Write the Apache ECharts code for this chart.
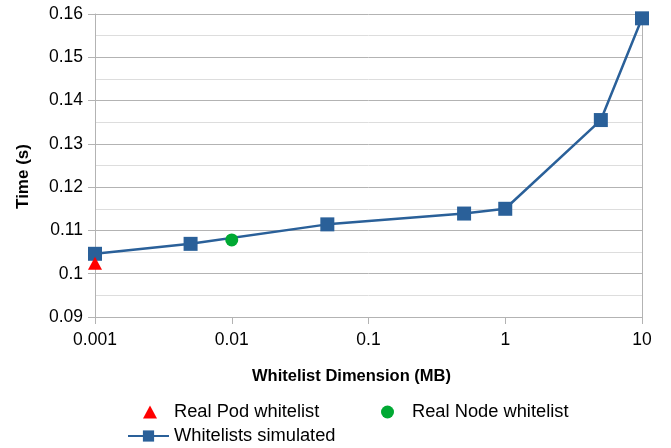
<!DOCTYPE html>
<html><head><meta charset="utf-8">
<script src="https://cdn.jsdelivr.net/npm/echarts@6/dist/echarts.min.js"></script>
<style>html,body{margin:0;padding:0;background:#fff}#c{width:671px;height:448px}</style>
</head><body><div id="c"></div>
<script>
const simX = [0.001, 0.005, 0.05, 0.5, 1, 5, 10];
const simY = [0.1046, 0.1069, 0.1114, 0.1139, 0.1150, 0.1355, 0.1590];
const podX = [0.001];
const podY = [0.1024];
const nodeX = [0.01];
const nodeY = [0.1078];
const yTicks = [0.09, 0.10, 0.11, 0.12, 0.13, 0.14, 0.15, 0.16];

const font = 'Liberation Sans';
const chart = echarts.init(document.getElementById('c'));
const zip = (a, b) => a.map((v, i) => [v, b[i]]);
chart.setOption({
  animation: false,
  textStyle: {fontFamily: font},
  grid: {left: 95, right: 29, top: 14, bottom: 131},
  xAxis: {
    type: 'log', logBase: 10, min: 0.001, max: 10,
    name: 'Whitelist Dimension (MB)', nameLocation: 'middle', nameGap: 51,
    nameTextStyle: {fontFamily: font, fontWeight: 'bold', fontSize: 16.5, color: '#000', padding: [0, 34, 0, 0]},
    axisLine: {show: true, lineStyle: {color: '#b3b3b3', width: 1}},
    axisTick: {show: true, length: 7, lineStyle: {color: '#b3b3b3'}},
    axisLabel: {fontFamily: font, fontSize: 17.5, color: '#000', margin: 14,
      formatter: v => String(+v.toPrecision(3))},
    splitLine: {show: false}, minorTick: {show: false}
  },
  yAxis: [{
    type: 'value', min: 0.09, max: 0.16, interval: 0.01,
    name: 'Time (s)', nameLocation: 'middle', nameGap: 63,
    nameTextStyle: {fontFamily: font, fontWeight: 'bold', fontSize: 17, color: '#000', padding: [0, 22, 0, 0]},
    axisLine: {show: true, lineStyle: {color: '#b3b3b3', width: 1}},
    axisTick: {show: true, length: 7, lineStyle: {color: '#b3b3b3'}},
    axisLabel: {fontFamily: font, fontSize: 17.5, color: '#000', margin: 12,
      formatter: v => String(+v.toFixed(2))},
    splitLine: {show: true, lineStyle: {color: '#b3b3b3', width: 1}},
    minorTick: {show: false, splitNumber: 2},
    minorSplitLine: {show: true, lineStyle: {color: '#dddddd', width: 1}}
  }, {
    type: 'value', position: 'right', min: 0.09, max: 0.16, interval: 0.01,
    axisLine: {show: true, lineStyle: {color: '#b3b3b3', width: 1}},
    axisTick: {show: false}, axisLabel: {show: false}, splitLine: {show: false}
  }],
  legend: [{
    left: 138, top: 398, itemWidth: 14, itemHeight: 13,
    textStyle: {fontFamily: font, fontSize: 18.3, color: '#000', padding: [0, 0, 0, 12]},
    data: [{name: 'Real Pod whitelist', icon: 'triangle', itemStyle: {color: '#ff0000', opacity: 1}}]
  }, {
    left: 376, top: 398, itemWidth: 13, itemHeight: 13,
    textStyle: {fontFamily: font, fontSize: 18.3, color: '#000', padding: [0, 0, 0, 13]},
    data: [{name: 'Real Node whitelist', icon: 'circle', itemStyle: {color: '#00a933', opacity: 1}}]
  }, {
    left: 122, top: 422, itemWidth: 41, itemHeight: 14,
    textStyle: {fontFamily: font, fontSize: 18.3, color: '#000', padding: [0, 0, 0, 0]},
    data: ['Whitelists simulated']
  }],
  series: [{
    name: 'Whitelists simulated', type: 'line', data: zip(simX, simY),
    symbol: 'rect', symbolSize: 14, color: '#2a6099',
    lineStyle: {color: '#2a6099', width: 2.5}, itemStyle: {color: '#2a6099'}, z: 3
  }, {
    name: 'Real Pod whitelist', type: 'scatter', data: zip(podX, podY),
    symbol: 'triangle', symbolSize: [14, 13], itemStyle: {color: '#ff0000', opacity: 1}, z: 4
  }, {
    name: 'Real Node whitelist', type: 'scatter', data: zip(nodeX, nodeY),
    symbol: 'circle', symbolSize: 13, itemStyle: {color: '#00a933', opacity: 1}, z: 4
  }]
});
</script></body></html>
